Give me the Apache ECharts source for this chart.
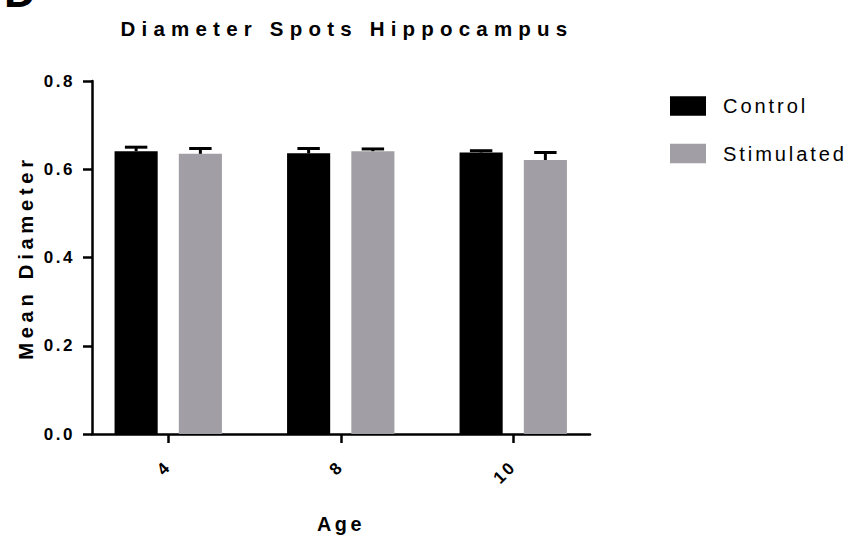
<!DOCTYPE html>
<html>
<head>
<meta charset="utf-8">
<script src="https://cdn.jsdelivr.net/npm/echarts@6/dist/echarts.min.js"></script>
<style>
html,body{margin:0;padding:0;background:#fff;}
#chart{width:848px;height:540px;}
/* title */
#chart text[style*="20.5px"]{letter-spacing:6.2px;}
/* legend */
#chart text[style*="20.1px"]{letter-spacing:2.9px;}
/* y axis name */
#chart text[style*="20.2px"]{letter-spacing:4.7px;}
/* x axis name */
#chart text[style*="19.8px"]{letter-spacing:3.6px;}
/* tick labels */
#chart text[style*="17px"]{letter-spacing:2.5px;}
</style>
</head>
<body>
<div id="chart"></div>
<script>
const categories = ['4', '8', '10'];
const control = [0.641, 0.636, 0.638];
const controlErr = [0.009, 0.011, 0.004];
const stimulated = [0.635, 0.641, 0.621];
const stimulatedErr = [0.012, 0.005, 0.017];

const BAR_FRAC = 0.25, GAP_FRAC = 0.49;
const FONT = "'Liberation Sans', Arial, sans-serif";

function errSeries(name, vals, errs, side) {
  return {
    name: name + ' error',
    type: 'custom',
    xAxisIndex: 0, yAxisIndex: 0,
    z: 5,
    silent: true,
    data: vals.map((v, i) => [i, v, errs[i]]),
    encode: { x: 0, y: 1 },
    renderItem: function (params, api) {
      const i = api.value(0), v = api.value(1), e = api.value(2);
      const base = api.coord([i, v]);
      const top = api.coord([i, v + e]);
      const band = api.size([1, 0])[0];
      const barW = band * BAR_FRAC;
      const off = side * (barW + barW * GAP_FRAC) / 2;
      const cx = base[0] + off;
      const half = barW * 0.26;
      return {
        type: 'group',
        children: [
          { type: 'line', shape: { x1: cx, y1: base[1], x2: cx, y2: top[1] }, style: { stroke: '#000', lineWidth: 3 } },
          { type: 'line', shape: { x1: cx - half, y1: top[1], x2: cx + half, y2: top[1] }, style: { stroke: '#000', lineWidth: 3 } }
        ]
      };
    }
  };
}

const chart = echarts.init(document.getElementById('chart'), null, { renderer: 'svg' });
chart.setOption({
  animation: false,
  backgroundColor: '#fff',
  textStyle: { fontFamily: FONT },
  title: {
    text: 'Diameter Spots Hippocampus',
    left: 342, top: 13, textAlign: 'center',
    textStyle: { fontFamily: FONT, fontWeight: 'bold', fontSize: 20.5, color: '#000' }
  },
  graphic: [{
    type: 'text', left: 4, top: -31,
    style: { text: 'D', font: "bold 44px 'Liberation Sans', Arial, sans-serif", fill: '#000' }
  }],
  legend: {
    orient: 'vertical', left: 665, top: 91,
    itemWidth: 36, itemHeight: 19.5, itemGap: 27.5,
    icon: 'rect',
    data: ['Control', 'Stimulated'],
    textStyle: { fontFamily: FONT, fontSize: 20.1, color: '#000', padding: [0, 0, 0, 12] }
  },
  grid: [
    { left: 82, width: 517.5, top: 81, height: 353 },
    { left: 92, width: 498, top: 81, height: 353 }
  ],
  xAxis: [
    {
      type: 'category', gridIndex: 0, data: categories,
      axisLine: { show: false },
      axisTick: { show: true, alignWithLabel: true, length: 9, lineStyle: { color: '#000', width: 2.5 } },
      axisLabel: { rotate: 45, margin: 30, color: '#000', fontWeight: 'bold', fontSize: 17, fontFamily: FONT }
    },
    {
      type: 'value', gridIndex: 1, min: 0, max: 1,
      axisLine: { show: true, lineStyle: { color: '#000', width: 2.5 } },
      axisTick: { show: false }, axisLabel: { show: false }, splitLine: { show: false },
      name: 'Age', nameLocation: 'middle', nameGap: 80,
      nameTextStyle: { fontFamily: FONT, fontWeight: 'bold', fontSize: 19.8, color: '#000' }
    }
  ],
  yAxis: [
    {
      type: 'value', gridIndex: 0, min: 0, max: 0.8, interval: 0.2, show: false
    },
    {
      type: 'value', gridIndex: 1, min: 0, max: 0.8, interval: 0.2,
      axisLine: { show: true, lineStyle: { color: '#000', width: 2.5 } },
      axisTick: { show: true, length: 9, lineStyle: { color: '#000', width: 2.5 } },
      axisLabel: {
        margin: 17, color: '#000', fontWeight: 'bold', fontSize: 17, fontFamily: FONT,
        formatter: v => v.toFixed(1)
      },
      splitLine: { show: false },
      name: 'Mean Diameter', nameLocation: 'middle', nameGap: 56,
      nameTextStyle: { fontFamily: FONT, fontWeight: 'bold', fontSize: 20.2, color: '#000' }
    }
  ],
  series: [
    {
      name: 'Control', type: 'bar', xAxisIndex: 0, yAxisIndex: 0,
      data: control, barWidth: (BAR_FRAC * 100) + '%', barGap: (GAP_FRAC * 100) + '%',
      itemStyle: { color: '#000' }
    },
    {
      name: 'Stimulated', type: 'bar', xAxisIndex: 0, yAxisIndex: 0,
      data: stimulated, barWidth: (BAR_FRAC * 100) + '%', barGap: (GAP_FRAC * 100) + '%',
      itemStyle: { color: '#a19fa5' }
    },
    errSeries('Control', control, controlErr, -1),
    errSeries('Stimulated', stimulated, stimulatedErr, 1)
  ]
});
</script>
</body>
</html>
